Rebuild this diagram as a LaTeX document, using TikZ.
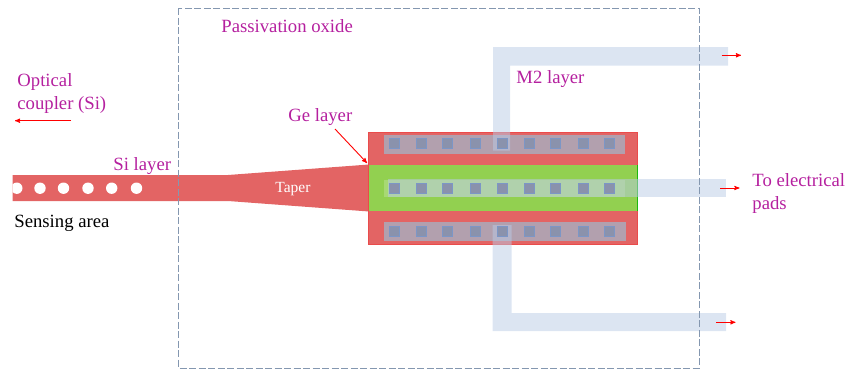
\documentclass[tikz,border=0pt]{standalone}
\usepackage{fontspec}
\setmainfont{Liberation Serif}
\usetikzlibrary{arrows}
\definecolor{sired}{HTML}{E36464}
\definecolor{gegreen}{HTML}{92D050}
\definecolor{metalblue}{HTML}{B9CBE6}
\definecolor{viagray}{HTML}{B2A0AE}
\definecolor{viafill}{HTML}{8A92AC}
\definecolor{viaedge}{HTML}{7C96C6}
\definecolor{labelpurple}{HTML}{B5209F}
\definecolor{oxideline}{HTML}{8497B0}

\begin{document}
\begin{tikzpicture}[x=1pt,y=-1pt,>=stealth',line width=0.8pt]
		\tikzstyle{every node}=[inner sep=0pt,anchor=west,align=left,font=\fontsize{18.7}{23}\selectfont]
		\tikzstyle{layerlabel}=[text=labelpurple]
		\tikzstyle{redarrow}=[->,draw=red,line width=0.9pt]
		\tikzstyle{metal}=[fill=metalblue,fill opacity=0.5]
		\tikzstyle{contact}=[fill=viagray]
		\tikzstyle{via}=[fill=viafill,draw=viaedge,line width=0.6pt]
		
		\useasboundingbox (0,0) rectangle (845,372);
		
		% waveguide and taper
		\fill[sired] (12.5,175) -- (228,175) -- (369,164.5) -- (369,211.5) -- (228,201) -- (12.5,201) -- cycle;
		\foreach \x in {40,63.5,88,111.7,136.5}
			\fill[white] (\x,188.2) circle (5.7);
		\begin{scope}
			\clip (12.5,175) rectangle (30,201);
			\fill[white] (16.8,188.2) circle (5.7);
		\end{scope}
		
		% Ge region
		\fill[sired] (368.5,132) rectangle (637,244.5);
		\draw[red!25!sired,line width=0.6pt] (368.5,132) rectangle (637,244.5);
		\fill[gegreen] (369,165) rectangle (637,211);
		\draw[green!70!black!80!gegreen,line width=0.6pt] (637,165) -- (637,211);
		
		% contact strips
		\fill[contact] (384,135) rectangle (625,154);
		\fill[contact] (384,222) rectangle (626,241);
		\fill[white,fill opacity=0.2] (384,180) rectangle (625,197);
		
		% M2 metal
		\fill[metal] (493,150.5) -- (493,47) -- (728,47) -- (728,65.7) -- (510,65.7) -- (510,150.5) -- cycle;
		\fill[metal] (388,179) rectangle (726,196.7);
		\fill[metal] (492.7,225) -- (511.7,225) -- (511.7,313) -- (726,313) -- (726,331) -- (492.7,331) -- cycle;
		
		% vias
		\foreach \x in {394.7,421,447.7,475,502,529.3,555.3,583.3,609.3}
			\foreach \y in {143.3,188.3,231.3}
				\filldraw[via] (\x-5,\y-5) rectangle (\x+5,\y+5);
		
		% passivation
		\draw[oxideline,line width=1pt,dash pattern=on 7pt off 2.5pt] (178.5,8) rectangle (699,368);
		
		\node[layerlabel] (oxide) at (221,26) {Passivation oxide};
		\node[layerlabel] (coupler) at (17,93.5) {Optical\\coupler (Si)};
		\node[layerlabel] (si) at (113,166.5) {Si layer};
		\node (sensing) at (14,223.5) {Sensing area};
		\node[text=white,font=\fontsize{15.5}{18}\selectfont] (taper) at (275,189.5) {Taper};
		\node[layerlabel] (ge) at (288,117.5) {Ge layer};
		\node[layerlabel] (m2) at (516,79.5) {M2 layer};
		\node[layerlabel] (pads) at (752,193) {To electrical\\pads};
		
		\coordinate (couplerstart) at (71,120.7);
		\coordinate (couplerend) at (15,120.7);
		\coordinate (gestart) at (335,129);
		\coordinate (geend) at (367,163);
		\coordinate (topstart) at (721.5,55.3);
		\coordinate (topend) at (741,55.3);
		\coordinate (midstart) at (720,188);
		\coordinate (midend) at (739.5,188);
		\coordinate (botstart) at (716,322.3);
		\coordinate (botend) at (735.5,322.3);
		
		\draw[redarrow] (couplerstart) -- (couplerend);
		\draw[redarrow] (gestart) -- (geend);
		\draw[redarrow] (topstart) -- (topend);
		\draw[redarrow] (midstart) -- (midend);
		\draw[redarrow] (botstart) -- (botend);
	\end{tikzpicture}
\end{document}
